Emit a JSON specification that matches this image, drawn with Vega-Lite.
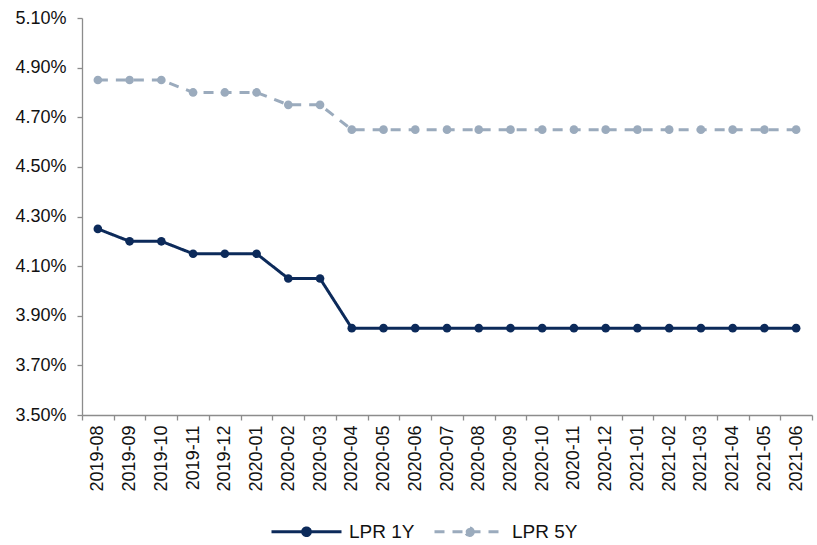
{
  "$schema": "https://vega.github.io/schema/vega-lite/v6.json",
  "width": 730,
  "height": 397,
  "autosize": "none",
  "padding": {"left": 82, "top": 18, "right": 5, "bottom": 130},
  "background": "white",
  "config": {
    "view": {"stroke": null},
    "font": "Liberation Sans",
    "axis": {"labelFont": "Liberation Sans", "labelFontSize": 18, "labelColor": "#111111", "domainColor": "#8c8c8c", "tickColor": "#8c8c8c", "domainWidth": 1.3, "tickWidth": 1.3, "grid": false, "title": null, "tickSize": 5}
  },
  "data": {
    "values": [
      {"month": "2019-08", "series": "LPR 1Y", "rate": 4.25},
      {"month": "2019-09", "series": "LPR 1Y", "rate": 4.20},
      {"month": "2019-10", "series": "LPR 1Y", "rate": 4.20},
      {"month": "2019-11", "series": "LPR 1Y", "rate": 4.15},
      {"month": "2019-12", "series": "LPR 1Y", "rate": 4.15},
      {"month": "2020-01", "series": "LPR 1Y", "rate": 4.15},
      {"month": "2020-02", "series": "LPR 1Y", "rate": 4.05},
      {"month": "2020-03", "series": "LPR 1Y", "rate": 4.05},
      {"month": "2020-04", "series": "LPR 1Y", "rate": 3.85},
      {"month": "2020-05", "series": "LPR 1Y", "rate": 3.85},
      {"month": "2020-06", "series": "LPR 1Y", "rate": 3.85},
      {"month": "2020-07", "series": "LPR 1Y", "rate": 3.85},
      {"month": "2020-08", "series": "LPR 1Y", "rate": 3.85},
      {"month": "2020-09", "series": "LPR 1Y", "rate": 3.85},
      {"month": "2020-10", "series": "LPR 1Y", "rate": 3.85},
      {"month": "2020-11", "series": "LPR 1Y", "rate": 3.85},
      {"month": "2020-12", "series": "LPR 1Y", "rate": 3.85},
      {"month": "2021-01", "series": "LPR 1Y", "rate": 3.85},
      {"month": "2021-02", "series": "LPR 1Y", "rate": 3.85},
      {"month": "2021-03", "series": "LPR 1Y", "rate": 3.85},
      {"month": "2021-04", "series": "LPR 1Y", "rate": 3.85},
      {"month": "2021-05", "series": "LPR 1Y", "rate": 3.85},
      {"month": "2021-06", "series": "LPR 1Y", "rate": 3.85},
      {"month": "2019-08", "series": "LPR 5Y", "rate": 4.85},
      {"month": "2019-09", "series": "LPR 5Y", "rate": 4.85},
      {"month": "2019-10", "series": "LPR 5Y", "rate": 4.85},
      {"month": "2019-11", "series": "LPR 5Y", "rate": 4.80},
      {"month": "2019-12", "series": "LPR 5Y", "rate": 4.80},
      {"month": "2020-01", "series": "LPR 5Y", "rate": 4.80},
      {"month": "2020-02", "series": "LPR 5Y", "rate": 4.75},
      {"month": "2020-03", "series": "LPR 5Y", "rate": 4.75},
      {"month": "2020-04", "series": "LPR 5Y", "rate": 4.65},
      {"month": "2020-05", "series": "LPR 5Y", "rate": 4.65},
      {"month": "2020-06", "series": "LPR 5Y", "rate": 4.65},
      {"month": "2020-07", "series": "LPR 5Y", "rate": 4.65},
      {"month": "2020-08", "series": "LPR 5Y", "rate": 4.65},
      {"month": "2020-09", "series": "LPR 5Y", "rate": 4.65},
      {"month": "2020-10", "series": "LPR 5Y", "rate": 4.65},
      {"month": "2020-11", "series": "LPR 5Y", "rate": 4.65},
      {"month": "2020-12", "series": "LPR 5Y", "rate": 4.65},
      {"month": "2021-01", "series": "LPR 5Y", "rate": 4.65},
      {"month": "2021-02", "series": "LPR 5Y", "rate": 4.65},
      {"month": "2021-03", "series": "LPR 5Y", "rate": 4.65},
      {"month": "2021-04", "series": "LPR 5Y", "rate": 4.65},
      {"month": "2021-05", "series": "LPR 5Y", "rate": 4.65},
      {"month": "2021-06", "series": "LPR 5Y", "rate": 4.65}
    ]
  },
  "encoding": {
    "x": {
      "field": "month", "type": "ordinal",
      "scale": {"type": "band", "paddingInner": 0, "paddingOuter": 0},
      "axis": {"labelAngle": -90, "labelPadding": 5, "tickBand": "extent", "labelBaseline": "middle", "labelAlign": "right"}
    },
    "y": {
      "field": "rate", "type": "quantitative",
      "scale": {"domain": [3.5, 5.1], "nice": false, "zero": false},
      "axis": {"values": [3.5, 3.7, 3.9, 4.1, 4.3, 4.5, 4.7, 4.9, 5.1], "labelExpr": "format(datum.value, '.2f') + '%'", "labelPadding": 11}
    },
    "color": {
      "field": "series", "type": "nominal",
      "scale": {"domain": ["LPR 1Y", "LPR 5Y"], "range": ["#0c2a5a", "#9babbd"]}
    }
  },
  "layer": [
    {
      "mark": {"type": "line", "strokeWidth": 3},
      "encoding": {
        "strokeDash": {
          "field": "series", "type": "nominal",
          "scale": {"domain": ["LPR 1Y", "LPR 5Y"], "range": [[1, 0], [10, 8]]}
        },
        "color": {
          "field": "series", "type": "nominal",
          "scale": {"domain": ["LPR 1Y", "LPR 5Y"], "range": ["#0c2a5a", "#9babbd"]},
          "legend": {
            "title": null,
            "orient": "none",
            "legendX": 188,
            "legendY": 477,
            "direction": "horizontal",
            "symbolType": "M-1,0L1,0M0.11,0A0.11,0.11,0,1,1,-0.11,0A0.11,0.11,0,1,1,0.11,0Z",
            "symbolSize": 4900,
            "symbolStrokeWidth": 3,
            "labelFont": "Liberation Sans",
            "labelFontSize": 19,
            "labelColor": "#111111",
            "labelOffset": 6,
            "columnPadding": 13,
            "encode": {"symbols": {"update": {"fill": {"scale": "color", "field": "value"}}}}
          }
        }
      }
    },
    {
      "mark": {"type": "point", "filled": true, "size": 75, "opacity": 1},
      "encoding": {
        "color": {"field": "series", "type": "nominal", "legend": null}
      }
    }
  ]
}
